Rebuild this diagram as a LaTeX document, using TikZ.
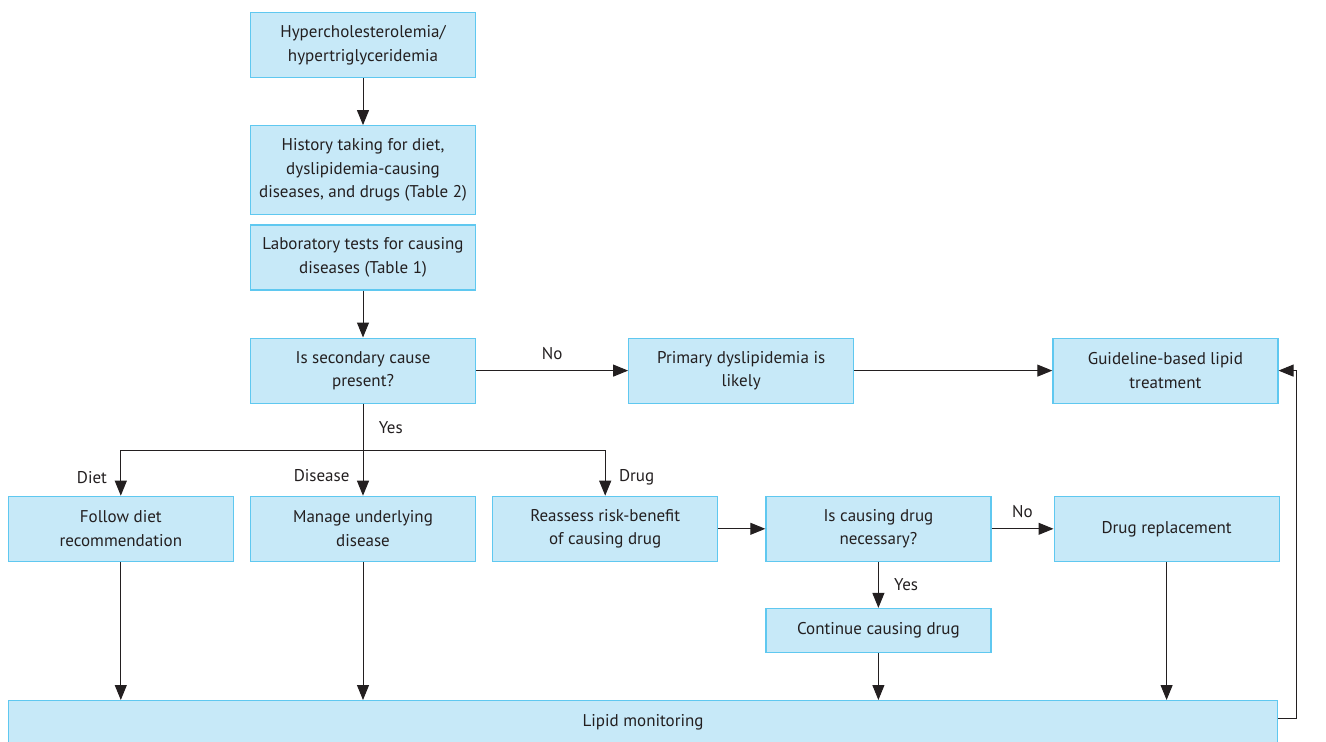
\documentclass[tikz,border=0pt]{standalone}
\usepackage{fontspec}
\setmainfont{PT Sans}
\usepackage{xcolor}
\usepackage{tikz}
\usetikzlibrary{arrows.meta, positioning, calc}
\definecolor{boxfill}{RGB}{199, 233, 248}
\definecolor{boxline}{RGB}{95, 200, 240}
\definecolor{inkgray}{RGB}{35, 31, 32}

\begin{document}
\begin{tikzpicture}[
      x=1pt, y=1pt,
      node distance=47pt,
      font=\fontsize{17}{23.5}\selectfont,
      text=inkgray,
      box/.style={draw=boxline, fill=boxfill, line width=1.2pt,
                  minimum width=225pt, minimum height=65pt,
                  align=center, inner sep=4pt},
      arr/.style={draw=inkgray, line width=1pt,
                  -{Triangle[length=15pt, width=12pt]}},
      lbl/.style={font=\fontsize{17}{20}\selectfont}
    ]
    \useasboundingbox (0,0) rectangle (1326,-742);
    % main column
    \node[box, minimum height=65pt] (hyper) at (363,-45)
      {Hypercholesterolemia/\\hypertriglyceridemia};
    \node[box, minimum height=89pt, below=of hyper] (history)
      {History taking for diet,\\dyslipidemia-causing\\diseases, and drugs (Table 2)};
    \node[box, below=9pt of history] (labtest)
      {Laboratory tests for causing\\diseases (Table 1)};
    \node[box, below=of labtest] (secq) {Is secondary cause\\present?};
    \node[box, right=152pt of secq] (primary) {Primary dyslipidemia is\\likely};
    \node[box, right=198pt of primary] (guide) {Guideline-based lipid\\treatment};
    % second row
    \node[box, below=92pt of secq] (disease) {Manage underlying\\disease};
    \node[box, left=16pt of disease] (diet) {Follow diet\\recommendation};
    \node[box, right=16pt of disease] (reassess) {Reassess risk-benefit\\of causing drug};
    \node[box, right=of reassess] (drugq)
      {Is causing drug\\necessary?};
    \node[box, right=62pt of drugq] (replace) {Drug replacement};
    \node[box, minimum height=44pt, below=46pt of drugq] (continue)
      {Continue causing drug};
    \node[box, minimum width=1269pt, minimum height=44pt, anchor=north west] (monitor)
      at (8,-700) {Lipid monitoring};

    % connectors
    \draw[arr] (hyper) -- (history);
    \draw[arr] (labtest) -- (secq);
    \draw[arr] (secq) -- node[lbl, above=7pt] {No} (primary);
    \draw[arr] (primary) -- (guide);
    \coordinate (split) at ($(secq.south)+(0,-47)$);
    \draw[arr] (secq) -- node[lbl, pos=0.26, right=12pt] {Yes} (disease);
    \draw[arr] (split) -| node[lbl, pos=0.8, left=10pt] {Diet} (diet);
    \draw[arr] (split) -| node[lbl, pos=0.8, right=10pt] {Drug} (reassess);
    \node[lbl, left=10pt] at ($(split)!0.55!(disease.north)$) {Disease};
    \draw[arr] (reassess) -- (drugq);
    \draw[arr] (drugq) -- node[lbl, above=7pt] {No} (replace);
    \draw[arr] (drugq) -- node[lbl, right=12pt] {Yes} (continue);
    \draw[arr] (diet) -- (diet |- monitor.north);
    \draw[arr] (disease) -- (disease |- monitor.north);
    \draw[arr] (continue) -- (continue |- monitor.north);
    \draw[arr] (replace) -- (replace |- monitor.north);
    \draw[arr] ([yshift=-18pt]monitor.north east) -- ++(18,0) |- (guide.east);
  \end{tikzpicture}
\end{document}
